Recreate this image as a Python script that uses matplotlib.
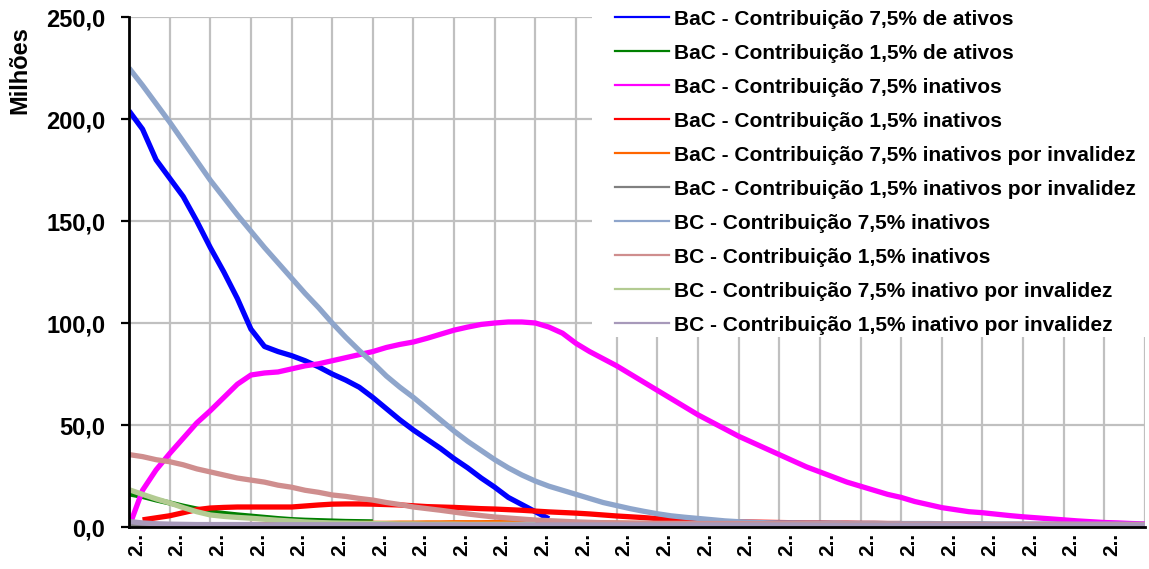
import numpy as np
import matplotlib
matplotlib.use("Agg")
import matplotlib.pyplot as plt
from matplotlib.lines import Line2D
from matplotlib.patches import Rectangle

plt.rcParams['font.family'] = ['Liberation Sans', 'DejaVu Sans']

# anos (indice) e series em milhoes
anos = list(range(76))

bac_75_ativos = [204, 195, 180, 171, 162, 150, 137, 125, 112, 97, 88.5, 86, 84, 81.5,
                 78.5, 75, 72, 68.5, 63.5, 58, 52.5, 47.5, 43, 38.5, 33.5, 29, 24, 19.5,
                 14.5, 11, 7.5, 4]
bac_15_ativos = [16.3, 15, 13.3, 11.8, 10.2, 8.8, 7.4, 6.6, 5.9, 5.3, 4.7, 4.1, 3.6, 3.3,
                 3.1, 2.9, 2.7, 2.6, 2.5]
bac_75_inativos = [0, 18, 28, 36, 43.5, 51, 57, 63.5, 70, 74.5, 75.5, 76, 77.5, 79, 80,
                   81.5, 83, 84.5, 86, 88, 89.5, 90.7, 92.5, 94.5, 96.5, 98, 99.3, 100,
                   100.5, 100.5, 100, 98, 95, 90, 86, 82.5, 79, 75, 71, 67, 63, 59, 55,
                   51.5, 48, 44.5, 41.5, 38.5, 35.5, 32.5, 29.5, 27, 24.5, 22, 20, 18, 16,
                   14.5, 12.5, 11, 9.5, 8.5, 7.5, 7, 6.3, 5.6, 5, 4.5, 4, 3.5, 3, 2.6,
                   2.2, 2, 1.7, 1.5]
bac_15_inativos = [np.nan, 3.5, 4.5, 5.5, 7, 8.5, 9.3, 9.6, 9.8, 9.8, 9.8, 9.8, 9.8, 10.3,
                   10.8, 11.2, 11.3, 11.3, 11.2, 11, 10.8, 10.4, 10, 9.8, 9.6, 9.3, 9.0,
                   8.8, 8.5, 8.2, 7.8, 7.4, 7.1, 6.8, 6.4, 5.9, 5.4, 5.0, 4.6, 4.1, 3.6,
                   3.1, 2.9, 2.8, 2.6, 2.5, 2.4, 2.3, 2.2, 2.1, 2.0, 2.0, 1.9, 1.9, 1.8,
                   1.8, 1.7, 1.7]
bac_75_invalidez = [0.3, 0.4, 0.5, 0.6, 0.7, 0.8, 0.9, 1.0, 1.1, 1.2, 1.2, 1.3, 1.4, 1.5,
                    1.5, 1.6, 1.7, 1.7, 1.8, 1.8, 1.9, 1.9, 2.0, 2.0, 2.1, 2.1, 2.1, 2.2,
                    2.2, 2.2, 2.2, 2.2, 2.1, 2.1, 2.0, 2.0, 1.9, 1.8, 1.7, 1.6, 1.5, 1.4,
                    1.3, 1.2, 1.1, 1.0, 0.9, 0.8, 0.7, 0.6, 0.5]
bac_15_invalidez = [1.0, 0.8, 0.6, 0.5, 0.4, 0.4, 0.3, 0.3, 0.3, 0.3, 0.2, 0.2, 0.2, 0.2,
                    0.2, 0.2, 0.2, 0.2, 0.2, 0.2, 0.2]
bc_75_inativos = [225, 216.5, 207.5, 198.5, 189, 179.5, 170, 161.5, 153, 145, 137, 129.5,
                  122, 114.5, 107.5, 100, 93, 86.5, 80.5, 74, 68.5, 63.5, 58, 52.5, 47, 42,
                  37.5, 33, 29, 25.5, 22.5, 20, 18, 16, 14, 12, 10.5, 9, 7.7, 6.5, 5.5,
                  4.8, 4.2, 3.6, 3, 2.6, 2.3, 2.1, 2, 2, 1.9, 1.9, 1.9, 1.8, 1.8, 1.8,
                  1.7, 1.7, 1.7, 1.7, 1.6, 1.6, 1.6, 1.6, 1.5, 1.5, 1.5, 1.5, 1.5, 1.4,
                  1.4, 1.4, 1.4, 1.4, 1.3, 1.3]
bc_15_inativos = [35.5, 34.5, 33, 32, 30.5, 28.5, 27, 25.5, 24, 23, 22, 20.5, 19.5, 18, 17,
                  15.7, 15, 14, 13.2, 12, 11, 9.8, 9, 8.2, 7.3, 6.4, 5.6, 4.9, 4.4, 3.9,
                  3.4, 3.1, 2.8, 2.5, 2.3, 2.1, 2, 1.9, 1.9, 1.8, 1.8, 1.8, 1.7, 1.7, 1.7,
                  1.7, 1.6, 1.6, 1.6, 1.6, 1.6, 1.5, 1.5, 1.5, 1.5, 1.5, 1.5, 1.4, 1.4,
                  1.4, 1.4, 1.4, 1.4, 1.3, 1.3, 1.3, 1.3, 1.3, 1.3, 1.3, 1.2, 1.2, 1.2,
                  1.2, 1.2, 1.2]
bc_75_invalidez = [18.3, 16, 13.8, 11.8, 9.5, 7.5, 5.9, 5.2, 4.7, 4.3, 3.8, 3.3, 2.9, 2.5,
                   2.2, 2.0, 1.9, 1.8, 1.7, 1.6, 1.5, 1.5, 1.4, 1.4, 1.4, 1.3, 1.3, 1.3,
                   1.3, 1.2, 1.2]
bc_15_invalidez = [2.7, 2.0, 1.6, 1.4, 1.3, 1.2, 1.2, 1.2, 1.2, 1.2, 1.1, 1.1, 1.1, 1.1,
                   1.1, 1.1, 1.1, 1.1, 1.1, 1.1, 1.0, 1.0, 1.0, 1.0, 1.0, 1.0, 1.0, 1.0,
                   1.0, 1.0, 1.0, 1.0, 1.0, 1.0, 1.0, 1.0, 1.0, 1.0, 1.0, 1.0, 1.0, 1.0,
                   1.0, 1.0, 1.0, 1.0, 1.0, 1.0, 1.0, 1.0, 1.0, 0.9, 0.9, 0.9, 0.9, 0.9,
                   0.9, 0.9, 0.9, 0.9, 0.9, 0.9, 0.9, 0.9, 0.9, 0.9, 0.9, 0.9, 0.9, 0.9,
                   0.9, 0.9, 0.9, 0.9, 0.9, 0.9]

series = [
    ("BaC - Contribuição 7,5% de ativos", bac_75_ativos, "#0000FF"),
    ("BaC - Contribuição 1,5% de ativos", bac_15_ativos, "#008000"),
    ("BaC - Contribuição 7,5% inativos", bac_75_inativos, "#FF00FF"),
    ("BaC - Contribuição 1,5% inativos", bac_15_inativos, "#FF0000"),
    ("BaC - Contribuição 7,5% inativos por invalidez", bac_75_invalidez, "#FF6600"),
    ("BaC - Contribuição 1,5% inativos por invalidez", bac_15_invalidez, "#808080"),
    ("BC - Contribuição 7,5% inativos", bc_75_inativos, "#8EA5CB"),
    ("BC - Contribuição 1,5% inativos", bc_15_inativos, "#CF8E8E"),
    ("BC - Contribuição 7,5% inativo por invalidez", bc_75_invalidez, "#B3CB92"),
    ("BC - Contribuição 1,5% inativo por invalidez", bc_15_invalidez, "#A799BA"),
]

fig = plt.figure(figsize=(11.49, 5.69), dpi=100)
ax = fig.add_axes([129/1149, 1-527/569, 1016/1149, 510/569])

handles = []
for nome, vals, cor in series:
    ax.plot(anos[:len(vals)], vals, color=cor, lw=3.8, solid_capstyle='butt')
    handles.append(Line2D([], [], color=cor, lw=1.6))

ax.set_xlim(0, 75)
ax.set_ylim(0, 250)

ax.set_yticks(np.arange(0, 251, 50))
ax.set_yticklabels([f"{v:.1f}".replace(".", ",") for v in np.arange(0, 251, 50)],
                   fontsize=17, fontweight='bold')
ax.tick_params(axis='y', direction='out', length=6, width=1.6, pad=11)

ax.set_xticks(np.arange(0, 75, 3) + 0.55)
ax.set_xticklabels(["2.."] * 25, rotation=90, fontsize=15, fontweight='bold', va='top')
ax.set_xticks(np.arange(3, 76, 3), minor=True)
ax.tick_params(axis='x', which='both', length=0, pad=4)

ax.grid(axis='y', which='major', color='#C0C0C0', lw=1.6)
ax.grid(axis='x', which='minor', color='#C0C0C0', lw=1.6)
ax.set_axisbelow(True)

for s in ['top', 'right']:
    ax.spines[s].set_visible(False)
for s in ['left', 'bottom']:
    ax.spines[s].set_linewidth(2)

fig.text(20/1149, 1-70/569, "Milhões", rotation=90, ha='center', va='center',
         fontsize=17, fontweight='bold')

# fundo branco da legenda por cima da area do grafico
fig.patches.append(Rectangle((592/1149, 1-337/569), 1-592/1149, 337/569,
                             transform=fig.transFigure, facecolor='white',
                             edgecolor='none', zorder=3))

leg = fig.legend(handles, [s[0] for s in series], loc='upper left',
                 bbox_to_anchor=(600/1149, 1+5/569), frameon=False,
                 prop={'weight': 'bold', 'size': 15},
                 handlelength=2.6, handletextpad=0.25, labelspacing=0.72,
                 borderpad=0.2)
leg.set_zorder(4)

fig.savefig("out.png", dpi=100)
